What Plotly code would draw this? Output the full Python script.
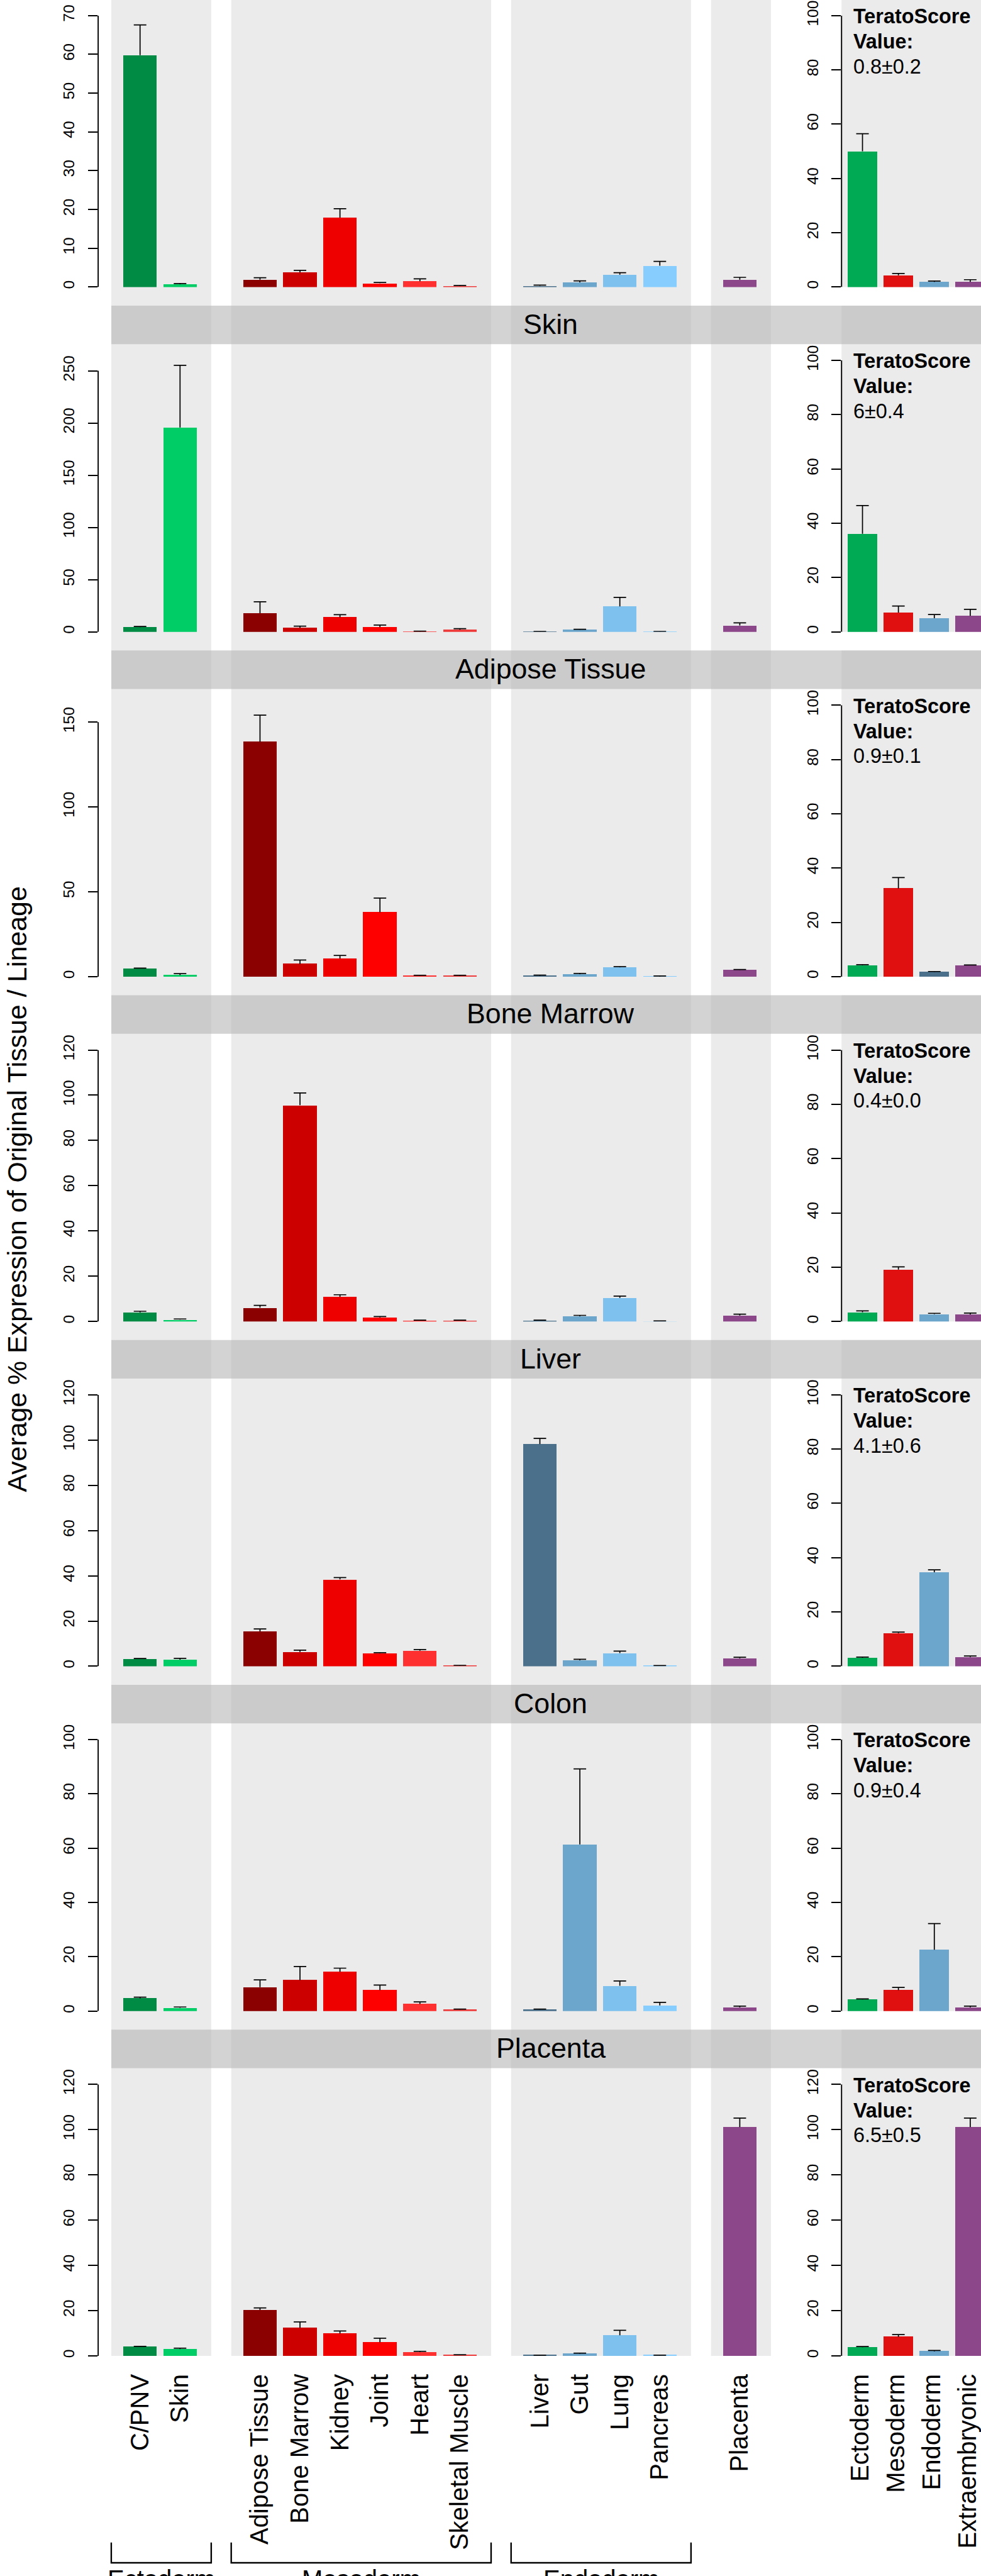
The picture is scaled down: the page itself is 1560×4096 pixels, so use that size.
import plotly.graph_objects as go

# ---------------- data ----------------
tissues = ["C/PNV", "Skin", "Adipose Tissue", "Bone Marrow", "Kidney", "Joint", "Heart",
           "Skeletal Muscle", "Liver", "Gut", "Lung", "Pancreas", "Placenta"]
tissue_lineage = ["Ectoderm", "Ectoderm", "Mesoderm", "Mesoderm", "Mesoderm", "Mesoderm",
                  "Mesoderm", "Mesoderm", "Endoderm", "Endoderm", "Endoderm", "Endoderm", "Placenta"]
lineages = ["Ectoderm", "Mesoderm", "Endoderm", "Extraembryonic"]
origins = ["C/PNV", "Skin", "Adipose Tissue", "Bone Marrow", "Liver", "Colon", "Placenta"]

# mean % expression per tissue (left) and standard error
cpnv_mean = [59.8, 0.7, 1.9, 3.8, 17.9, 1.0, 1.5, 0.3, 0.3, 1.2, 3.2, 5.5, 1.9]
cpnv_se = [7.8, 0.2, 0.5, 0.5, 2.3, 0.2, 0.6, 0.1, 0.2, 0.4, 0.5, 1.1, 0.6]
skin_mean = [4.4, 195.7, 17.9, 3.8, 14.0, 4.4, 0.2, 2.1, 0.2, 2.1, 24.4, 0.2, 6.1]
skin_se = [0.8, 59.5, 10.9, 1.6, 2.5, 2.1, 0.4, 1.0, 0.2, 0.4, 8.6, 0.2, 2.5]
adipose_mean = [4.8, 0.9, 138.4, 7.5, 10.7, 37.9, 0.5, 0.4, 0.5, 1.5, 5.5, 0.1, 4.0]
adipose_se = [0.2, 0.9, 15.7, 2.3, 1.8, 8.4, 0.3, 0.4, 0.4, 0.4, 0.4, 0.3, 0.2]
bonemarrow_mean = [4.0, 0.8, 6.1, 95.6, 10.9, 1.8, 0.4, 0.5, 0.4, 2.3, 10.4, 0.1, 2.6]
bonemarrow_se = [0.5, 0.3, 1.0, 5.4, 0.9, 0.4, 0.2, 0.1, 0.2, 0.4, 0.8, 0.1, 0.6]
liver_mean = [3.2, 2.9, 15.4, 6.3, 38.4, 5.8, 6.9, 0.2, 98.2, 2.6, 5.8, 0.2, 3.5]
liver_se = [0.2, 0.6, 1.1, 0.8, 0.8, 0.2, 0.5, 0.2, 2.5, 0.5, 0.9, 0.1, 0.5]
colon_mean = [4.7, 1.2, 8.8, 11.4, 14.5, 7.7, 2.6, 0.6, 0.6, 61.4, 9.3, 2.1, 1.4]
colon_se = [0.4, 0.3, 2.7, 5.0, 1.3, 1.9, 0.8, 0.1, 0.1, 27.8, 1.8, 1.1, 0.4]
placenta_mean = [4.1, 3.0, 20.3, 12.4, 9.9, 6.0, 1.7, 0.4, 0.2, 1.0, 9.1, 0.2, 101.1]
placenta_se = [0.1, 0.4, 0.9, 2.6, 1.1, 1.8, 0.3, 0.1, 0.1, 0.2, 2.2, 0.1, 4.0]

# lineage-level (TeratoScore) values
cpnv_ts_mean = [50.0, 4.3, 1.9, 1.9]
cpnv_ts_se = [6.5, 0.7, 0.3, 0.8]
skin_ts_mean = [36.1, 7.1, 5.0, 5.9]
skin_ts_se = [10.4, 2.4, 1.4, 2.4]
adipose_ts_mean = [4.2, 32.5, 1.8, 4.2]
adipose_ts_se = [0.2, 4.0, 0.1, 0.1]
bonemarrow_ts_mean = [3.4, 19.1, 2.7, 2.6]
bonemarrow_ts_se = [0.5, 1.0, 0.3, 0.5]
liver_ts_mean = [3.1, 12.2, 34.6, 3.4]
liver_ts_se = [0.3, 0.4, 0.9, 0.4]
colon_ts_mean = [4.3, 7.7, 22.6, 1.4]
colon_ts_se = [0.2, 1.0, 9.6, 0.4]
placenta_ts_mean = [3.8, 8.4, 2.0, 101.1]
placenta_ts_se = [0.3, 1.0, 0.4, 4.0]

tera_scores = ["0.8±0.2", "6±0.4", "0.9±0.1", "0.4±0.0", "4.1±0.6", "0.9±0.4", "6.5±0.5"]

# y tick labels per panel
left_ticks = [[0, 10, 20, 30, 40, 50, 60, 70],
              [0, 50, 100, 150, 200, 250],
              [0, 50, 100, 150],
              [0, 20, 40, 60, 80, 100, 120],
              [0, 20, 40, 60, 80, 100, 120],
              [0, 20, 40, 60, 80, 100],
              [0, 20, 40, 60, 80, 100, 120]]
ts_ticks = [[0, 20, 40, 60, 80, 100]] * 6 + [[0, 20, 40, 60, 80, 100, 120]]

panel_means = [cpnv_mean, skin_mean, adipose_mean, bonemarrow_mean, liver_mean, colon_mean, placenta_mean]
panel_ses = [cpnv_se, skin_se, adipose_se, bonemarrow_se, liver_se, colon_se, placenta_se]
panel_ts_means = [cpnv_ts_mean, skin_ts_mean, adipose_ts_mean, bonemarrow_ts_mean,
                  liver_ts_mean, colon_ts_mean, placenta_ts_mean]
panel_ts_ses = [cpnv_ts_se, skin_ts_se, adipose_ts_se, bonemarrow_ts_se,
                liver_ts_se, colon_ts_se, placenta_ts_se]

# ---------------- style / layout ----------------
tissue_colors = ["#008B45", "#00CD66", "#8B0000", "#CD0000", "#EE0000", "#FF0000", "#FF3030",
                 "#EE3B3B", "#4A708B", "#6CA6CD", "#7EC0EE", "#87CEFF", "#8B4789"]
ts_color_sets = [["#00AA55", "#E01010", "#6CA6CD", "#8B4789"] for _ in range(7)]
ts_color_sets[2][2] = "#4A708B"

left_ymax = [70, 260, 160, 120, 120, 100, 120]
ts_ymax = [100, 100, 100, 100, 100, 100, 120]

FONT = "Liberation Sans, Arial, Helvetica, sans-serif"
W_REF, H_REF = 1639.0, 4304.0
W, H = 1560, 4096
S = W / W_REF


def px(xr):
    return xr / W_REF


def py(yr):
    return 1 - yr / H_REF


B0, PSTEP, PH = 479.6, 576.1, 453.6
SLOT0_PX, SLOT_PX = 234.0, 66.8
LEFT_AX_PX, LEFT_END_PX = 164.0, 1300.0
TS_AX_PX, TS_U_PX = 1406.0, 50.0
BAND_GRAY = "#EBEBEB"
STRIP_COL = "rgba(182,182,182,0.6)"

# slot positions: one empty slot between lineage groups
slots = []
s, prev = 0, None
for g in tissue_lineage:
    if prev is not None and g != prev:
        s += 1
    slots.append(s)
    s += 1
    prev = g
groups = []
for g, sl in zip(tissue_lineage, slots):
    if groups and groups[-1][0] == g:
        groups[-1][2] = sl
    else:
        groups.append([g, sl, sl])

ts_pos = [0.7 + 1.2 * i for i in range(len(lineages))]

fig = go.Figure()
layout = dict(width=W, height=H, autosize=False,
              margin=dict(l=0, r=0, t=0, b=0, pad=0, autoexpand=False),
              paper_bgcolor="white", plot_bgcolor="rgba(0,0,0,0)",
              showlegend=False, font=dict(family=FONT, color="black"),
              bargap=0)
shapes, annotations = [], []

left_xrange = [(LEFT_AX_PX - SLOT0_PX) / SLOT_PX, (LEFT_END_PX - SLOT0_PX) / SLOT_PX]
ts_xrange = [0, (W_REF - TS_AX_PX) / TS_U_PX]
bar_w = 56.0 / SLOT_PX
cap_l = 10.5 / SLOT_PX
cap_t = 10.5 / TS_U_PX
nrows = len(origins)


def err_trace(xs, means, ses, hw, xa, ya):
    X, Y = [], []
    for x, m, e in zip(xs, means, ses):
        X += [x, x, None, x - hw, x + hw, None]
        Y += [m, m + e, None, m + e, m + e, None]
    return go.Scatter(x=X, y=Y, mode="lines", line=dict(color="black", width=1.8 * S),
                      xaxis=xa, yaxis=ya, hoverinfo="skip", cliponaxis=False)


for k in range(nrows):
    Bk = B0 + PSTEP * k
    Tk = Bk - PH
    nl, nt = 2 * k + 1, 2 * k + 2
    xl = "x" if nl == 1 else f"x{nl}"
    yl = "y" if nl == 1 else f"y{nl}"
    xt, yt = f"x{nt}", f"y{nt}"
    bottom = (k == nrows - 1)

    fig.add_trace(go.Bar(x=slots, y=panel_means[k], width=bar_w,
                         marker=dict(color=tissue_colors, line=dict(width=0)),
                         xaxis=xl, yaxis=yl))
    fig.add_trace(err_trace(slots, panel_means[k], panel_ses[k], cap_l, xl, yl))
    fig.add_trace(go.Bar(x=ts_pos, y=panel_ts_means[k], width=1.0,
                         marker=dict(color=ts_color_sets[k], line=dict(width=0)),
                         xaxis=xt, yaxis=yt))
    fig.add_trace(err_trace(ts_pos, panel_ts_means[k], panel_ts_ses[k], cap_t, xt, yt))

    ydom = [py(Bk), py(Tk)]
    common_y = dict(showgrid=False, zeroline=False, showline=False, ticks="outside",
                    ticklen=15.5 * S, tickwidth=1.9 * S, tickcolor="black",
                    tickangle=-90, ticklabelstandoff=12, automargin=False,
                    tickfont=dict(size=26 * S, family=FONT, color="black"),
                    domain=ydom, fixedrange=True)
    layout["yaxis" if nl == 1 else f"yaxis{nl}"] = dict(
        common_y, range=[0, left_ymax[k]], tickvals=left_ticks[k],
        ticktext=[str(v) for v in left_ticks[k]], anchor=xl)
    layout[f"yaxis{nt}"] = dict(
        common_y, range=[0, ts_ymax[k]], tickvals=ts_ticks[k],
        ticktext=[str(v) for v in ts_ticks[k]], anchor=xt)

    common_x = dict(showgrid=False, zeroline=False, showline=False, ticks="",
                    automargin=False, fixedrange=True)
    xl_ax = dict(common_x, domain=[px(LEFT_AX_PX), px(LEFT_END_PX)], range=left_xrange,
                 anchor=yl)
    xt_ax = dict(common_x, domain=[px(TS_AX_PX), 1.0], range=ts_xrange, anchor=yt)
    if bottom:
        lab = dict(tickangle=-90, tickfont=dict(size=42 * S, family=FONT, color="black"),
                   ticklabelstandoff=int(22 * S), ticklabeloverflow="allow")
        xl_ax.update(lab, tickvals=slots, ticktext=tissues, showticklabels=True)
        xt_ax.update(lab, tickvals=ts_pos, ticktext=lineages, showticklabels=True,
                     ticklabelshift=-4)
    else:
        xl_ax.update(showticklabels=False)
        xt_ax.update(showticklabels=False)
    layout["xaxis" if nl == 1 else f"xaxis{nl}"] = xl_ax
    layout[f"xaxis{nt}"] = xt_ax

    # axis lines (from 0 to the last tick, like base R)
    shapes.append(dict(type="line", xref="paper", yref=yl, x0=px(LEFT_AX_PX), x1=px(LEFT_AX_PX),
                       y0=0, y1=left_ticks[k][-1], line=dict(color="black", width=2 * S)))
    shapes.append(dict(type="line", xref="paper", yref=yt, x0=px(TS_AX_PX), x1=px(TS_AX_PX),
                       y0=0, y1=ts_ticks[k][-1], line=dict(color="black", width=2 * S)))

    # TeratoScore grey background
    top_ts = 0.0 if k == 0 else (B0 + PSTEP * (k - 1) + 31)
    shapes.append(dict(type="rect", xref="paper", yref="paper", x0=px(TS_AX_PX), x1=1.0,
                       y0=py(Bk), y1=py(top_ts), fillcolor=BAND_GRAY, line=dict(width=0),
                       layer="below"))

    # TeratoScore text
    tx = px(1424)
    annotations.append(dict(xref="paper", yref="paper", x=tx, y=py(Tk + 1.5), xanchor="left",
                            yanchor="middle", text="<b>TeratoScore</b>", showarrow=False,
                            font=dict(size=34 * S, family=FONT, color="black")))
    annotations.append(dict(xref="paper", yref="paper", x=tx, y=py(Tk + 43.5), xanchor="left",
                            yanchor="middle", text="<b>Value:</b>", showarrow=False,
                            font=dict(size=34 * S, family=FONT, color="black")))
    annotations.append(dict(xref="paper", yref="paper", x=tx, y=py(Tk + 85), xanchor="left",
                            yanchor="middle", text=tera_scores[k], showarrow=False,
                            font=dict(size=34 * S, family=FONT, color="black")))

# lineage bands (continuous vertical grey columns)
B_last = B0 + PSTEP * (nrows - 1)
band_shapes = []
for g, a, b in groups:
    band_shapes.append(dict(type="rect", xref="x", yref="paper", x0=a - 0.72, x1=b + 0.78,
                            y0=py(B_last), y1=1.0, fillcolor=BAND_GRAY, line=dict(width=0),
                            layer="below"))
shapes = band_shapes + shapes

# strips with origin names
for k in range(1, nrows):
    st = B0 + PSTEP * (k - 1) + 31
    shapes.append(dict(type="rect", xref="paper", yref="paper", x0=px(186), x1=1.0,
                       y0=py(st + 64.5), y1=py(st), fillcolor=STRIP_COL, line=dict(width=0),
                       layer="below"))
    annotations.append(dict(xref="paper", yref="paper", x=px(920), y=py(st + 31),
                            xanchor="center", yanchor="middle", text=origins[k],
                            showarrow=False, font=dict(size=47 * S, family=FONT, color="black")))

# brackets for germ layers under the bottom axis
xb = f"x{2 * (nrows - 1) + 1}"
for g, a, b in groups:
    if g == "Placenta":
        continue
    x0, x1 = a - 0.72, b + 0.78
    y0, y1 = py(4248), py(4282)
    shapes.append(dict(type="path", xref=xb, yref="paper",
                       path=f"M {x0},{y0} L {x0},{y1} L {x1},{y1} L {x1},{y0}",
                       line=dict(color="black", width=2.5 * S)))
    annotations.append(dict(xref=xb, yref="paper", x=(x0 + x1) / 2, y=py(4284),
                            xanchor="center", yanchor="top", text=g, showarrow=False,
                            font=dict(size=42 * S, family=FONT, color="black")))

# y axis title
annotations.append(dict(xref="paper", yref="paper", x=px(28), y=py(1987), xanchor="center",
                        yanchor="middle", textangle=-90,
                        text="Average % Expression of Original Tissue / Lineage",
                        showarrow=False, font=dict(size=45 * S, family=FONT, color="black")))

layout["shapes"] = shapes
layout["annotations"] = annotations
fig.update_layout(**layout)
fig.write_html("out.html", config={"displayModeBar": False},
               post_script="document.body.style.margin='0';"
                           "document.body.style.overflow='hidden';")
